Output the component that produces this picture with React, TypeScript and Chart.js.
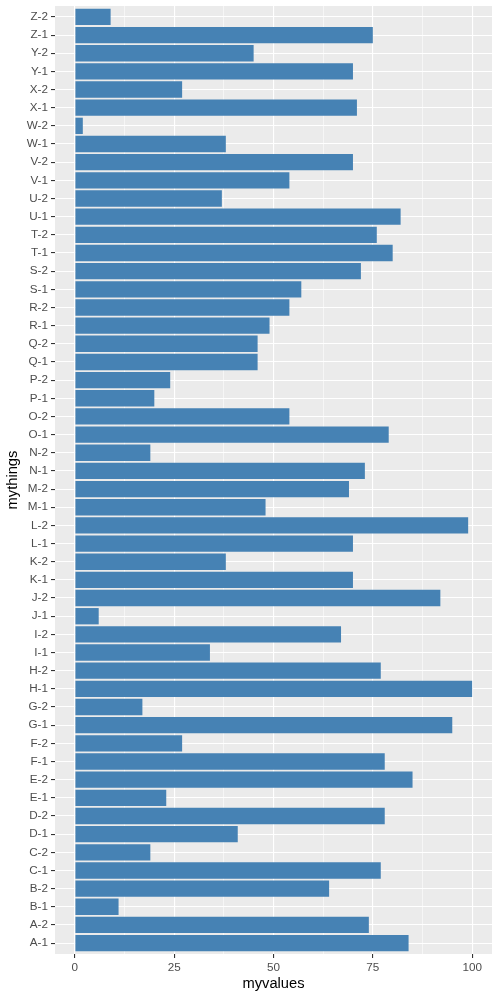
import React, { useEffect, useRef } from "react";
import { Chart, registerables } from "chart.js";

Chart.register(...registerables);

const categories = [
  "A-1", "A-2", "B-1", "B-2", "C-1", "C-2", "D-1", "D-2", "E-1", "E-2",
  "F-1", "F-2", "G-1", "G-2", "H-1", "H-2", "I-1", "I-2", "J-1", "J-2",
  "K-1", "K-2", "L-1", "L-2", "M-1", "M-2", "N-1", "N-2", "O-1", "O-2",
  "P-1", "P-2", "Q-1", "Q-2", "R-1", "R-2", "S-1", "S-2", "T-1", "T-2",
  "U-1", "U-2", "V-1", "V-2", "W-1", "W-2", "X-1", "X-2", "Y-1", "Y-2",
  "Z-1", "Z-2",
];

const myvalues = [
  84, 74, 11, 64, 77, 19, 41, 78, 23, 85,
  78, 27, 95, 17, 100, 77, 34, 67, 6, 92,
  70, 38, 70, 99, 48, 69, 73, 19, 79, 54,
  20, 24, 46, 46, 49, 54, 57, 72, 80, 76,
  82, 37, 54, 70, 38, 2, 71, 27, 70, 45,
  75, 9,
];

const xTicks = [0, 12.5, 25, 37.5, 50, 62.5, 75, 87.5, 100];

const FONT = "'Liberation Sans', Arial, sans-serif";

const panelBackground = {
  id: "panelBackground",
  beforeDraw(chart: any) {
    const { ctx, chartArea } = chart;
    ctx.save();
    ctx.fillStyle = "#EBEBEB";
    ctx.fillRect(chartArea.left, chartArea.top, chartArea.right - chartArea.left, chartArea.bottom - chartArea.top);
    ctx.restore();
  },
};

export default function App() {
  const ref = useRef<HTMLCanvasElement>(null);

  useEffect(() => {
    if (!ref.current) return;
    const isMajor = (v: number) => Math.abs(v % 25) < 1e-9;
    const chart = new Chart(ref.current, {
      type: "bar",
      data: {
        datasets: [
          {
            data: myvalues.map((v, i) => ({ x: v, y: i })),
            backgroundColor: "#4682B4",
            borderWidth: 0,
            categoryPercentage: 0.9,
            barPercentage: 1,
          } as any,
        ],
      },
      plugins: [panelBackground],
      options: {
        animation: false,
        responsive: false,
        indexAxis: "y",
        layout: { padding: { top: 6, right: 8, left: 0, bottom: 0 } },
        plugins: { legend: { display: false }, tooltip: { enabled: false } },
        scales: {
          x: {
            type: "linear",
            min: -5,
            max: 105,
            offset: false,
            afterBuildTicks: (scale: any) => {
              scale.ticks = xTicks.map((v) => ({ value: v }));
            },
            afterFit: (scale: any) => {
              scale.height = 46;
              scale.paddingLeft = 0;
              scale.paddingRight = 0;
            },
            border: { display: false },
            grid: {
              offset: false,
              color: "#FFFFFF",
              lineWidth: (c: any) => (c.tick && isMajor(c.tick.value) ? 1.1 : 0.55),
              drawTicks: true,
              tickLength: 4,
              tickColor: (c: any) => (c.tick && isMajor(c.tick.value) ? "#333333" : "rgba(0,0,0,0)"),
              tickWidth: 1.1,
            },
            ticks: {
              autoSkip: false,
              maxRotation: 0,
              padding: 3,
              color: "#4D4D4D",
              font: { family: FONT, size: 11.7 },
              callback: (v: any) => (isMajor(Number(v)) ? String(v) : ""),
            },
            title: {
              display: true,
              text: "myvalues",
              color: "#000000",
              font: { family: FONT, size: 14.7 },
              padding: { top: 0, bottom: 7 },
            },
          },
          y: {
            type: "linear",
            min: -0.6,
            max: categories.length - 1 + 0.6,
            offset: false,
            afterBuildTicks: (scale: any) => {
              scale.ticks = categories.map((_, i) => ({ value: i }));
            },
            afterFit: (scale: any) => {
              scale.width = 55;
              scale.paddingTop = 0;
              scale.paddingBottom = 0;
            },
            border: { display: false },
            grid: {
              offset: false,
              color: "#FFFFFF",
              lineWidth: 1.1,
              drawTicks: true,
              tickLength: 4,
              tickColor: "#333333",
              tickWidth: 1.1,
            },
            ticks: {
              autoSkip: false,
              padding: 3,
              color: "#4D4D4D",
              font: { family: FONT, size: 11.7 },
              callback: (v: any) => categories[Number(v)] ?? "",
            },
            title: {
              display: true,
              text: "mythings",
              color: "#000000",
              font: { family: FONT, size: 14.7 },
              padding: { top: 4, bottom: 0 },
            },
          },
        },
      } as any,
    });
    return () => chart.destroy();
  }, []);

  return (
    <div style={{ position: "fixed", left: 0, top: 0, width: 500, height: 1000, background: "#FFFFFF" }}>
      <canvas ref={ref} width={500} height={1000} style={{ display: "block", width: 500, height: 1000 }} />
    </div>
  );
}
